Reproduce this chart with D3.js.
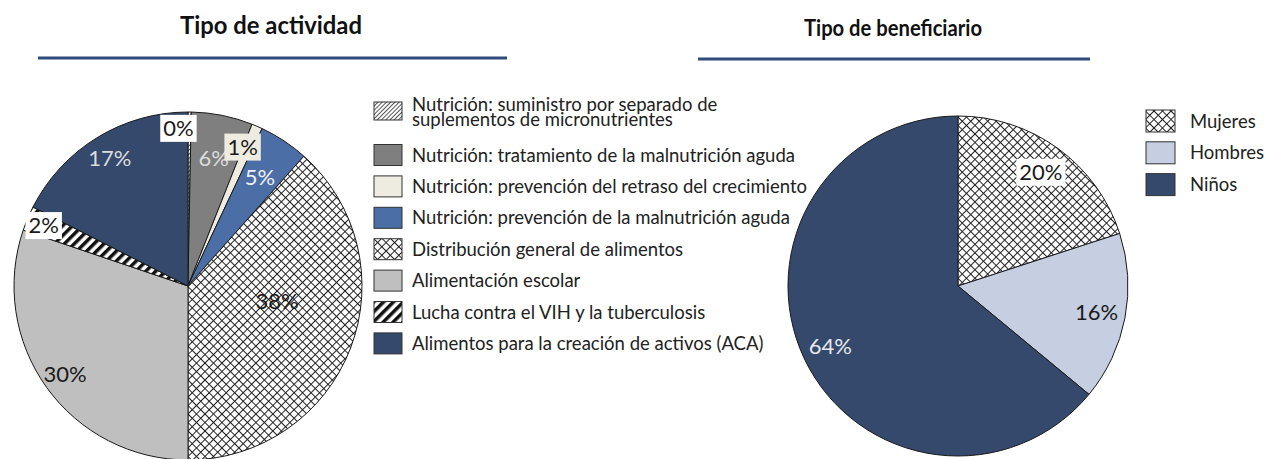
<!DOCTYPE html>
<html>
<head>
<meta charset="utf-8">
<script src="https://cdn.jsdelivr.net/npm/d3@7"></script>
<style>
  body { margin: 0; background: #fff; }
  svg { display: block; font-family: Lato, "Noto Sans", sans-serif; }
</style>
</head>
<body>
<svg id="chart" width="1267" height="459"></svg>
<script>
// --- Tipo de actividad ---
const activityNames = [
    ["Nutrición: suministro por separado de", "suplementos de micronutrientes"],
    ["Nutrición: tratamiento de la malnutrición aguda"],
    ["Nutrición: prevención del retraso del crecimiento"],
    ["Nutrición: prevención de la malnutrición aguda"],
    ["Distribución general de alimentos"],
    ["Alimentación escolar"],
    ["Lucha contra el VIH y la tuberculosis"],
    ["Alimentos para la creación de activos (ACA)"]
];
const activityValues = [0.3, 5.7, 1.0, 4.6, 38.4, 30.2, 2.3, 17.5];
const activityLabels = ["0%", "6%", "1%", "5%", "38%", "30%", "2%", "17%"];

// --- Tipo de beneficiario ---
const beneficiaryNames = ["Mujeres", "Hombres", "Niños"];
const beneficiaryValues = [20, 16, 64];
const beneficiaryLabels = ["20%", "16%", "64%"];

// styles
const activityFills = ["url(#hatchFine)", "#7f7f7f", "#eeece1", "#4c6ea6", "url(#cross)", "#bfbfbf", "url(#stripes)", "#34496b"];
const beneficiaryFills = ["url(#cross)", "#c5cfe1", "#34496b"];
const activityLabelStyle = [
    {color: "#1a1a1a", box: "#fff", rf: 0.91, shift: -4},
    {color: "#dcdcdc", rf: 0.75},
    {color: "#1a1a1a", box: "#eeece1", rf: 0.86, shift: -2},
    {color: "#eef0f6", rf: 0.75},
    {color: "#1a1a1a", rf: 0.52, shift: -11},
    {color: "#1a1a1a", rf: 0.87},
    {color: "#1a1a1a", box: "#fff", rf: 0.9},
    {color: "#dcdcdc", rf: 0.86}
];
const beneficiaryLabelStyle = [
    {color: "#1a1a1a", box: "#fff", rf: 0.83},
    {color: "#1a1a1a", rf: 0.83},
    {color: "#e6e8ee", rf: 0.83}
];

const svg = d3.select("#chart");
const defs = svg.append("defs");

// fine diagonal hatch
const p1 = defs.append("pattern").attr("id", "hatchFine").attr("patternUnits", "userSpaceOnUse")
    .attr("width", 3).attr("height", 3).attr("patternTransform", "rotate(45)");
p1.append("rect").attr("width", 3).attr("height", 3).attr("fill", "#fff");
p1.append("rect").attr("width", 1).attr("height", 3).attr("fill", "#555");

// crosshatch
const p2 = defs.append("pattern").attr("id", "cross").attr("patternUnits", "userSpaceOnUse")
    .attr("width", 6).attr("height", 6).attr("patternTransform", "rotate(45)");
p2.append("rect").attr("width", 6).attr("height", 6).attr("fill", "#fff");
p2.append("rect").attr("width", 1).attr("height", 6).attr("fill", "#222");
p2.append("rect").attr("width", 6).attr("height", 1).attr("fill", "#222");

// bold stripes
const p3 = defs.append("pattern").attr("id", "stripes").attr("patternUnits", "userSpaceOnUse")
    .attr("width", 7).attr("height", 7).attr("patternTransform", "rotate(45)");
p3.append("rect").attr("width", 7).attr("height", 7).attr("fill", "#fff");
p3.append("rect").attr("width", 3.5).attr("height", 7).attr("fill", "#111");

// titles
function title(text, x, y, size, w, x1, x2, ly) {
    svg.append("text").attr("x", x).attr("y", y).attr("text-anchor", "middle")
        .attr("font-weight", "bold").attr("font-size", size).attr("fill", "#111")
        .attr("textLength", w).attr("lengthAdjust", "spacingAndGlyphs").text(text);
    svg.append("line").attr("x1", x1).attr("x2", x2).attr("y1", ly).attr("y2", ly)
        .attr("stroke", "#2f4b7c").attr("stroke-width", 3);
}
title("Tipo de actividad", 271, 34, 24, 182, 38, 507, 58);
title("Tipo de beneficiario", 893, 36, 22.5, 178, 698, 1090, 59);

function drawPie(cx, cy, r, values, fills, labels, labelStyle) {
    const arcs = d3.pie().sort(null).value(d => d)(values);
    const arc = d3.arc().innerRadius(0).outerRadius(r);
    const g = svg.append("g").attr("transform", `translate(${cx},${cy})`);
    g.selectAll("path").data(arcs).join("path")
        .attr("d", arc)
        .attr("fill", (d, i) => fills[i])
        .attr("stroke", "#1a1a1a")
        .attr("stroke-width", 1);

    arcs.forEach((d, i) => {
        const st = labelStyle[i];
        const a = (d.startAngle + d.endAngle) / 2 + (st.shift || 0) * Math.PI / 180;
        const x = Math.sin(a) * r * st.rf, y = -Math.cos(a) * r * st.rf;
        const t = g.append("text").attr("x", x).attr("y", y)
            .attr("text-anchor", "middle").attr("dy", "0.36em")
            .attr("font-size", 22).attr("fill", st.color).text(labels[i]);
        if (st.box) {
            const bb = t.node().getBBox();
            g.append("rect").attr("x", bb.x - 3).attr("y", bb.y + 1)
                .attr("width", bb.width + 6).attr("height", bb.height)
                .attr("fill", st.box);
            t.raise();
        }
    });
}

drawPie(188, 286, 174, activityValues, activityFills, activityLabels, activityLabelStyle);
drawPie(958, 286, 170, beneficiaryValues, beneficiaryFills, beneficiaryLabels, beneficiaryLabelStyle);

// left legend
const leg1 = svg.append("g");
activityNames.forEach((lines, i) => {
    const cy = i === 0 ? 111 : 155 + (i - 1) * 31.4;
    const h = i === 0 ? 18 : 21;
    leg1.append("rect").attr("x", 374).attr("y", cy - h / 2).attr("width", 28).attr("height", h)
        .attr("fill", activityFills[i]).attr("stroke", "#333").attr("stroke-width", 1);
    if (lines.length > 1) {
        lines.forEach((s, j) => {
            leg1.append("text").attr("x", 412).attr("y", 111 + j * 15)
                .attr("font-size", 18.5).attr("fill", "#222").text(s);
        });
    } else {
        leg1.append("text").attr("x", 412).attr("y", cy).attr("dy", "0.36em")
            .attr("font-size", 18.5).attr("fill", "#222").text(lines[0]);
    }
});

// right legend
const leg2 = svg.append("g");
beneficiaryNames.forEach((name, i) => {
    const cy = 121 + i * 31.8;
    leg2.append("rect").attr("x", 1146).attr("y", cy - 11).attr("width", 29).attr("height", 22)
        .attr("fill", beneficiaryFills[i]).attr("stroke", "#333").attr("stroke-width", 1);
    leg2.append("text").attr("x", 1190).attr("y", cy).attr("dy", "0.36em")
        .attr("font-size", 18.5).attr("fill", "#222").text(name);
});
</script>
</body>
</html>
